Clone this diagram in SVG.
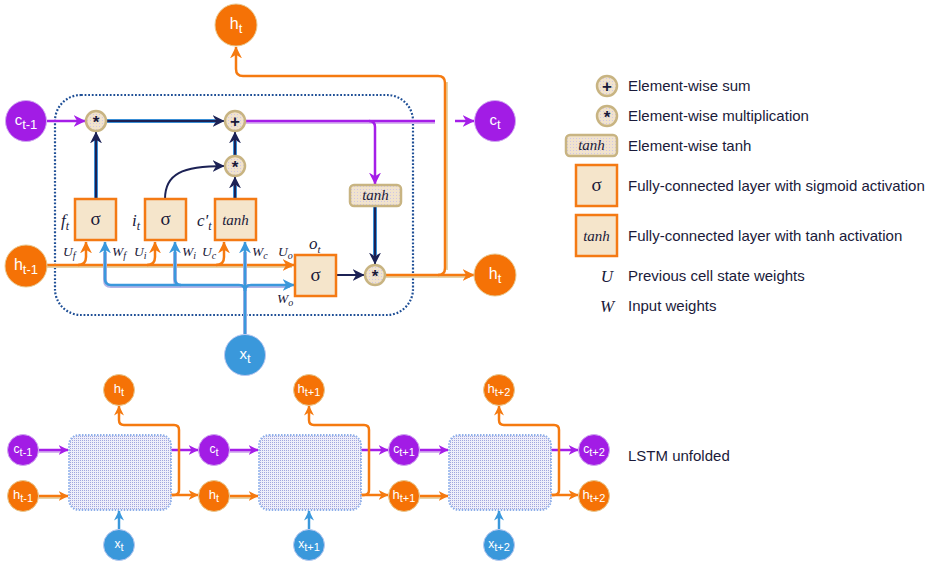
<svg xmlns="http://www.w3.org/2000/svg" width="932" height="567" viewBox="0 0 932 567">
<style>
.bg{fill:#ffffff}
.lo{fill:none;stroke:#f57a10;stroke-width:2.5;stroke-linejoin:round}
.loh{fill:none;stroke:#e6d3a8;stroke-width:4;stroke-linejoin:round}
.lb{fill:none;stroke:#3a98dc;stroke-width:2.5;stroke-linejoin:round}
.lbh{fill:none;stroke:#b4b4e6;stroke-width:4;stroke-linejoin:round}
.lp{fill:none;stroke:#a51ee8;stroke-width:2.5}
.lph{fill:none;stroke:#d8b8f0;stroke-width:4}
.ln{fill:none;stroke:#1c2255;stroke-width:2}
.lnh{fill:none;stroke:#3a8fd6;stroke-width:4}
.co{fill:#f57206;stroke:#e8c890;stroke-width:1}
.cb{fill:#3a98db;stroke:#b8c8f0;stroke-width:1}
.cp{fill:#a21ce5;stroke:#d0a8f0;stroke-width:1}
.ct{fill:#ffffff;font-family:"Liberation Sans",Arial,sans-serif;text-anchor:middle}
.op{fill:url(#dotE);stroke:#c8b482;stroke-width:2.5}
.box{fill:#f5e5cb;stroke:#f47a14;stroke-width:2.5}
.sig{font-family:"Liberation Serif","DejaVu Serif",serif;font-size:19px;fill:#1a1a3a;text-anchor:middle}
.th{font-family:"Liberation Serif","DejaVu Serif",serif;font-style:italic;font-size:15px;fill:#1a1a3a;text-anchor:middle}
.lab{font-family:"Liberation Serif","DejaVu Serif",serif;font-style:italic;font-size:17px;fill:#1a1a3a}
.wl{font-family:"Liberation Serif","DejaVu Serif",serif;font-style:italic;font-size:13.5px;fill:#1a1a3a}
.leg{font-family:"Liberation Sans",Arial,sans-serif;font-size:15px;fill:#1a1a3a}
.opt{font-family:"Liberation Sans",Arial,sans-serif;font-size:17px;font-weight:bold;fill:#1a1a3a;text-anchor:middle}
.blk{fill:url(#dotB);stroke:#8fb0ea;stroke-width:2;stroke-dasharray:1.5 1.5}
.cell{fill:none;stroke:#1f4f96;stroke-width:2.2;stroke-dasharray:1.8 1.8}
</style>
<defs>
<pattern id="dotE" width="3" height="3" patternUnits="userSpaceOnUse"><rect width="3" height="3" fill="#f1e3cd"/><rect width="1" height="1" fill="#cfc6e6"/></pattern>
<pattern id="dotB" width="2" height="2" patternUnits="userSpaceOnUse"><rect width="2" height="2" fill="#eeeefa"/><rect width="1" height="1" fill="#a2a6de"/></pattern>
<marker id="aN" viewBox="0 0 10 10" refX="9.5" refY="5" markerWidth="12" markerHeight="12" markerUnits="userSpaceOnUse" orient="auto"><path d="M0,0 L10,5 L0,10 L3,5 z" fill="#1c2255"/></marker>
<marker id="aO" viewBox="0 0 10 10" refX="9.5" refY="5" markerWidth="12" markerHeight="12" markerUnits="userSpaceOnUse" orient="auto"><path d="M0,0 L10,5 L0,10 L3,5 z" fill="#f57a10"/></marker>
<marker id="aB" viewBox="0 0 10 10" refX="9.5" refY="5" markerWidth="12" markerHeight="12" markerUnits="userSpaceOnUse" orient="auto"><path d="M0,0 L10,5 L0,10 L3,5 z" fill="#3a98dc"/></marker>
<marker id="aP" viewBox="0 0 10 10" refX="9.5" refY="5" markerWidth="12" markerHeight="12" markerUnits="userSpaceOnUse" orient="auto"><path d="M0,0 L10,5 L0,10 L3,5 z" fill="#a51ee8"/></marker>
<marker id="sO" viewBox="0 0 10 10" refX="9.5" refY="5" markerWidth="10" markerHeight="10" markerUnits="userSpaceOnUse" orient="auto"><path d="M0,0 L10,5 L0,10 L3,5 z" fill="#f57a10"/></marker>
<marker id="sB" viewBox="0 0 10 10" refX="9.5" refY="5" markerWidth="10" markerHeight="10" markerUnits="userSpaceOnUse" orient="auto"><path d="M0,0 L10,5 L0,10 L3,5 z" fill="#3a98dc"/></marker>
<marker id="sP" viewBox="0 0 10 10" refX="9.5" refY="5" markerWidth="10" markerHeight="10" markerUnits="userSpaceOnUse" orient="auto"><path d="M0,0 L10,5 L0,10 L3,5 z" fill="#a51ee8"/></marker>
</defs>
<rect class="bg" width="932" height="567"/>

<g id="cell-border"><rect class="cell" x="55" y="95" width="358" height="220" rx="26"/></g>

<g id="connectors">
  <!-- orange h_{t-1} -->
  <path class="loh" d="M47,266 L292,266"/>
  <path class="lo" d="M47,265 L294,265" marker-end="url(#aO)"/>
  <path class="lo" d="M78,265 Q86,265 86,257 L86,242" marker-end="url(#aO)"/>
  <path class="lo" d="M147,265 Q155,265 155,257 L155,242" marker-end="url(#aO)"/>
  <path class="lo" d="M216,265 Q224,265 224,257 L224,242" marker-end="url(#aO)"/>
  <!-- blue x_t -->
  <path class="lbh" d="M245,334 L245,252 M105,252 L105,280 Q105,286 111,286 L290,286 M175,252 L175,280 Q175,286 181,286"/>
  <path class="lb" d="M245,334 L245,242" marker-end="url(#aB)"/>
  <path class="lb" d="M245,291 Q245,285 239,285 L111,285 Q105,285 105,279 L105,242" marker-end="url(#aB)"/>
  <path class="lb" d="M181,285 Q175,285 175,279 L175,242" marker-end="url(#aB)"/>
  <path class="lb" d="M245,291 Q245,285 251,285 L294,285" marker-end="url(#aB)"/>
  <!-- navy -->
  <path class="lnh" d="M96,199 L96,140 M106,121 L215,121 M235,199 L235,186 M235,156 L235,141 M375,206 L375,255"/>
  <path class="ln" d="M96,199 L96,132" marker-end="url(#aN)"/>
  <path class="ln" d="M106,121 L224,121" marker-end="url(#aN)"/>
  <path class="ln" d="M165,199 C165,174 182,166 224,166" marker-end="url(#aN)"/>
  <path class="ln" d="M235,199 L235,177" marker-end="url(#aN)"/>
  <path class="ln" d="M235,156 L235,132" marker-end="url(#aN)"/>
  <path class="ln" d="M336,275 L364,275" marker-end="url(#aN)"/>
  <path class="ln" d="M375,206 L375,264" marker-end="url(#aN)"/>
  <!-- purple -->
  <path class="lp" d="M47,121 L85,121" marker-end="url(#aP)"/>
  <path class="lph" d="M246,122 L435,122"/>
  <path class="lp" d="M246,121 L435,121"/>
  <path class="lp" d="M369,121 Q375,121 375,127 L375,184" marker-end="url(#aP)"/>
  <path class="lp" d="M455,121 L474,121" marker-end="url(#aP)"/>
  <!-- orange h_t out -->
  <path class="loh" d="M386,276 L470,276 M446,270 L446,82"/>
  <path class="lo" d="M386,275 L474,275" marker-end="url(#aO)"/>
  <path class="lo" d="M438,275 Q445,275 445,268 L445,83 Q445,76 438,76 L243,76 Q236,76 236,69 L236,47" marker-end="url(#aO)"/>

  <!-- unfolded -->
  <path class="lph" d="M39,451 L62,451 M230,451 L252,451 M420,451 L442,451"/>
  <path class="lp" d="M39,450 L68,450" marker-end="url(#sP)"/>
  <path class="lp" d="M230,450 L258,450" marker-end="url(#sP)"/>
  <path class="lp" d="M420,450 L448,450" marker-end="url(#sP)"/>
  <path class="loh" d="M39,497 L62,497 M230,497 L252,497 M420,497 L442,497"/>
  <path class="lo" d="M39,496 L68,496" marker-end="url(#sO)"/>
  <path class="lo" d="M230,496 L258,496" marker-end="url(#sO)"/>
  <path class="lo" d="M420,496 L448,496" marker-end="url(#sO)"/>
  <path class="lp" d="M171,450 L198,450" marker-end="url(#sP)"/>
  <path class="lp" d="M361,450 L388,450" marker-end="url(#sP)"/>
  <path class="lp" d="M551,450 L578,450" marker-end="url(#sP)"/>
  <path class="lo" d="M171,495 L198,495" marker-end="url(#sO)"/>
  <path class="lo" d="M361,495 L388,495" marker-end="url(#sO)"/>
  <path class="lo" d="M551,495 L578,495" marker-end="url(#sO)"/>
  <path class="lo" d="M171,495 L174,495 Q179,495 179,490 L179,430 Q179,425 174,425 L124,425 Q119,425 119,420 L119,406" marker-end="url(#sO)"/>
  <path class="lo" d="M361,495 L364,495 Q369,495 369,490 L369,430 Q369,425 364,425 L314,425 Q309,425 309,420 L309,406" marker-end="url(#sO)"/>
  <path class="lo" d="M551,495 L554,495 Q559,495 559,490 L559,430 Q559,425 554,425 L504,425 Q499,425 499,420 L499,406" marker-end="url(#sO)"/>
  <path class="lb" d="M119,529 L119,511" marker-end="url(#sB)"/>
  <path class="lb" d="M309,529 L309,511" marker-end="url(#sB)"/>
  <path class="lb" d="M499,529 L499,511" marker-end="url(#sB)"/>
</g>

<g id="c_prev"><circle class="cp" cx="26" cy="121" r="20.5"/><text class="ct" x="26" y="125" font-size="15">c<tspan font-size="13" dy="4">t-1</tspan></text></g>
<g id="h_prev"><circle class="co" cx="26" cy="266" r="21"/><text class="ct" x="26" y="270" font-size="16">h<tspan font-size="13" dy="4">t-1</tspan></text></g>
<g id="x_t"><circle class="cb" cx="245" cy="355" r="20.5"/><text class="ct" x="245" y="359" font-size="15">x<tspan font-size="13" dy="4">t</tspan></text></g>
<g id="h_top"><circle class="co" cx="236" cy="25" r="21"/><text class="ct" x="236" y="29" font-size="16">h<tspan font-size="13" dy="4">t</tspan></text></g>
<g id="c_next"><circle class="cp" cx="495" cy="121" r="20.5"/><text class="ct" x="495" y="125" font-size="15">c<tspan font-size="13" dy="4">t</tspan></text></g>
<g id="h_next"><circle class="co" cx="495" cy="275" r="21"/><text class="ct" x="495" y="279" font-size="16">h<tspan font-size="13" dy="4">t</tspan></text></g>

<g id="mult_f"><circle class="op" cx="96" cy="121" r="10"/><text class="opt" x="96" y="128">*</text></g>
<g id="sum"><circle class="op" cx="235" cy="121" r="10"/><text class="opt" x="235" y="127">+</text></g>
<g id="mult_i"><circle class="op" cx="235" cy="166" r="10"/><text class="opt" x="235" y="173">*</text></g>
<g id="mult_o"><circle class="op" cx="375" cy="275" r="10"/><text class="opt" x="375" y="282">*</text></g>
<g id="tanh_e"><rect class="op" x="350" y="185" width="51" height="21" rx="4"/><text class="th" x="375.5" y="200">tanh</text></g>

<g id="gate_f"><rect class="box" x="75" y="199" width="41" height="41"/><text class="sig" x="95.5" y="225">σ</text><text class="lab" x="61" y="226">f<tspan font-size="12" dy="4">t</tspan></text></g>
<g id="gate_i"><rect class="box" x="145" y="199" width="41" height="41"/><text class="sig" x="165.5" y="225">σ</text><text class="lab" x="132" y="226">i<tspan font-size="12" dy="4">t</tspan></text></g>
<g id="gate_c"><rect class="box" x="215" y="199" width="41" height="41"/><text class="th" x="235.5" y="225">tanh</text><text class="lab" x="197" y="226">c'<tspan font-size="12" dy="4">t</tspan></text></g>
<g id="gate_o"><rect class="box" x="295" y="255" width="41" height="41"/><text class="sig" x="315.5" y="281">σ</text><text class="lab" x="309" y="249" font-size="15">o<tspan font-size="11" dy="4">t</tspan></text></g>

<g id="weight-labels">
  <text class="wl" x="63" y="256">U<tspan font-size="10" dy="3">f</tspan></text>
  <text class="wl" x="112" y="256">W<tspan font-size="10" dy="3">f</tspan></text>
  <text class="wl" x="134" y="256">U<tspan font-size="10" dy="3">i</tspan></text>
  <text class="wl" x="182" y="256">W<tspan font-size="10" dy="3">i</tspan></text>
  <text class="wl" x="202" y="256">U<tspan font-size="10" dy="3">c</tspan></text>
  <text class="wl" x="252" y="256">W<tspan font-size="10" dy="3">c</tspan></text>
  <text class="wl" x="278" y="256">U<tspan font-size="10" dy="3">o</tspan></text>
  <text class="wl" x="277" y="303">W<tspan font-size="10" dy="3">o</tspan></text>
</g>

<g id="legend">
  <g id="leg-sum"><circle class="op" cx="607" cy="86" r="10"/><text class="opt" x="607" y="92">+</text><text class="leg" x="628" y="91">Element-wise sum</text></g>
  <g id="leg-mult"><circle class="op" cx="607" cy="116" r="10"/><text class="opt" x="607" y="123">*</text><text class="leg" x="628" y="121">Element-wise multiplication</text></g>
  <g id="leg-tanh"><rect class="op" x="566" y="135" width="51" height="21" rx="4"/><text class="th" x="591.5" y="150">tanh</text><text class="leg" x="628" y="151">Element-wise tanh</text></g>
  <g id="leg-sig"><rect class="box" x="576" y="165" width="41" height="41"/><text class="sig" x="596.5" y="191">σ</text><text class="leg" x="628" y="191">Fully-connected layer with sigmoid activation</text></g>
  <g id="leg-fctanh"><rect class="box" x="576" y="215" width="41" height="41"/><text class="th" x="596.5" y="241">tanh</text><text class="leg" x="628" y="241">Fully-connected layer with tanh activation</text></g>
  <g id="leg-U"><text class="lab" x="607" y="282" font-size="20" text-anchor="middle">U</text><text class="leg" x="628" y="281">Previous cell state weights</text></g>
  <g id="leg-W"><text class="lab" x="607" y="312" font-size="20" text-anchor="middle">W</text><text class="leg" x="628" y="311">Input weights</text></g>
</g>

<g id="unfolded">
  <g id="blk0"><rect class="blk" x="69" y="435" width="102" height="75" rx="10"/></g>
  <g id="blk1"><rect class="blk" x="259" y="435" width="102" height="75" rx="10"/></g>
  <g id="blk2"><rect class="blk" x="449" y="435" width="102" height="75" rx="10"/></g>
  <g id="u-cprev"><circle class="cp" cx="23" cy="450" r="15.5"/><text class="ct" x="23" y="453" font-size="12">c<tspan font-size="11" dy="3">t-1</tspan></text></g>
  <g id="u-hprev"><circle class="co" cx="23" cy="496" r="15.5"/><text class="ct" x="23" y="499" font-size="13">h<tspan font-size="11" dy="3">t-1</tspan></text></g>
  <g id="u-h0"><circle class="co" cx="119" cy="390" r="15.5"/><text class="ct" x="119" y="393" font-size="13">h<tspan font-size="11" dy="3">t</tspan></text></g>
  <g id="u-h1"><circle class="co" cx="309" cy="390" r="15.5"/><text class="ct" x="309" y="393" font-size="13">h<tspan font-size="11" dy="3">t+1</tspan></text></g>
  <g id="u-h2"><circle class="co" cx="499" cy="390" r="15.5"/><text class="ct" x="499" y="393" font-size="13">h<tspan font-size="11" dy="3">t+2</tspan></text></g>
  <g id="u-x0"><circle class="cb" cx="119" cy="545" r="15.5"/><text class="ct" x="119" y="548" font-size="12">x<tspan font-size="11" dy="3">t</tspan></text></g>
  <g id="u-x1"><circle class="cb" cx="309" cy="545" r="15.5"/><text class="ct" x="309" y="548" font-size="12">x<tspan font-size="11" dy="3">t+1</tspan></text></g>
  <g id="u-x2"><circle class="cb" cx="499" cy="545" r="15.5"/><text class="ct" x="499" y="548" font-size="12">x<tspan font-size="11" dy="3">t+2</tspan></text></g>
  <g id="u-c0"><circle class="cp" cx="214" cy="450" r="15.5"/><text class="ct" x="214" y="453" font-size="12">c<tspan font-size="11" dy="3">t</tspan></text></g>
  <g id="u-c1"><circle class="cp" cx="404" cy="450" r="15.5"/><text class="ct" x="404" y="453" font-size="12">c<tspan font-size="11" dy="3">t+1</tspan></text></g>
  <g id="u-c2"><circle class="cp" cx="594" cy="450" r="15.5"/><text class="ct" x="594" y="453" font-size="12">c<tspan font-size="11" dy="3">t+2</tspan></text></g>
  <g id="u-hn0"><circle class="co" cx="214" cy="496" r="15.5"/><text class="ct" x="214" y="499" font-size="13">h<tspan font-size="11" dy="3">t</tspan></text></g>
  <g id="u-hn1"><circle class="co" cx="404" cy="496" r="15.5"/><text class="ct" x="404" y="499" font-size="13">h<tspan font-size="11" dy="3">t+1</tspan></text></g>
  <g id="u-hn2"><circle class="co" cx="594" cy="496" r="15.5"/><text class="ct" x="594" y="499" font-size="13">h<tspan font-size="11" dy="3">t+2</tspan></text></g>
  <text class="leg" x="628" y="461">LSTM unfolded</text>
</g>
</svg>
